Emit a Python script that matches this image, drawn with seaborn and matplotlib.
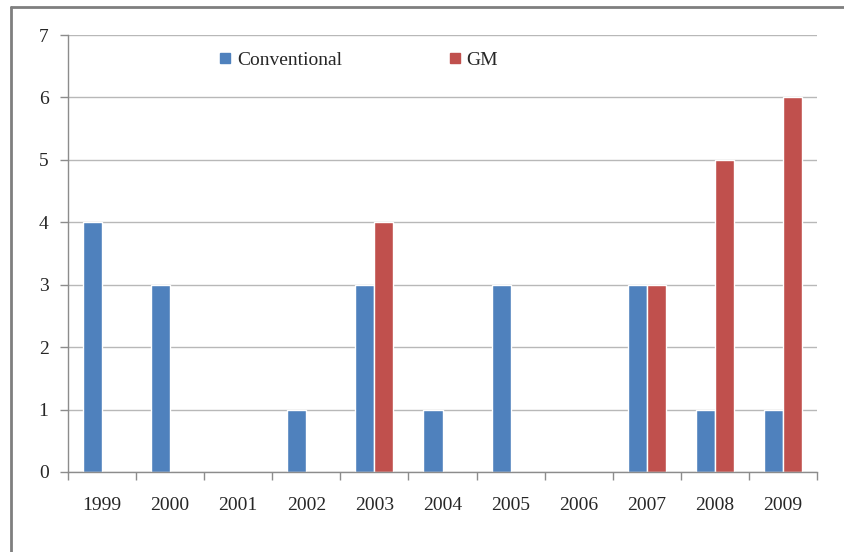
import matplotlib
matplotlib.use('Agg')
import matplotlib.pyplot as plt
import seaborn as sns
import pandas as pd
from matplotlib.lines import Line2D

years = ['1999', '2000', '2001', '2002', '2003', '2004', '2005', '2006', '2007', '2008', '2009']
conventional = [4, 3, 0, 1, 3, 1, 3, 0, 3, 1, 1]
gm = [0, 0, 0, 0, 4, 0, 0, 0, 3, 5, 6]

df = pd.DataFrame({
    'year': years * 2,
    'count': conventional + gm,
    'type': ['Conventional'] * len(years) + ['GM'] * len(years),
})

sns.set_style('white')
plt.rcParams['font.family'] = ['Liberation Serif', 'DejaVu Serif']

fig = plt.figure(figsize=(8.44, 5.52), dpi=100)
ax = fig.add_axes([68 / 844, 1 - 472 / 552, (817 - 68) / 844, (472 - 35) / 552])

sns.barplot(data=df, x='year', y='count', hue='type', order=years,
            palette={'Conventional': '#4F81BD', 'GM': '#C0504D'},
            width=0.56, saturation=1, ax=ax, legend=False)

ax.set_ylim(0, 7)
ax.set_xlim(-0.5, len(years) - 0.5)
ax.set_yticks(range(0, 8))
ax.yaxis.grid(True, color='#B8B8B8', linewidth=1)
ax.xaxis.grid(False)
ax.set_axisbelow(True)
ax.set_xlabel('')
ax.set_ylabel('')

for side in ['top', 'right']:
    ax.spines[side].set_visible(False)
for side in ['left', 'bottom']:
    ax.spines[side].set_color('#8C8C8C')
    ax.spines[side].set_linewidth(1)

# category boundary ticks on the x axis
ax.set_xticks([i - 0.5 for i in range(len(years) + 1)], minor=True)
ax.tick_params(axis='x', which='minor', length=6, color='#8C8C8C', width=1, direction='out')
ax.tick_params(axis='x', which='major', length=0, labelsize=14, pad=18)
ax.tick_params(axis='y', length=6, color='#8C8C8C', width=1, direction='out', labelsize=14, pad=8)
ax.tick_params(bottom=True, left=True, which='both')

handles = [Line2D([], [], marker='s', linestyle='', markersize=7, color='#4F81BD'),
           Line2D([], [], marker='s', linestyle='', markersize=7, color='#C0504D')]
ax.legend(handles, ['Conventional', 'GM'], ncol=2, frameon=False, fontsize=14,
          loc='center', bbox_to_anchor=(0.388, 0.943), columnspacing=5.5,
          handlelength=0.6, handletextpad=0.3)

# outer chart frame (top and left edges visible)
fig.add_artist(Line2D([10.5 / 844, 10.5 / 844], [0, 1 - 6.5 / 552], color='#7F7F7F', linewidth=2))
fig.add_artist(Line2D([10.5 / 844, 1], [1 - 6.5 / 552, 1 - 6.5 / 552], color='#7F7F7F', linewidth=2))

fig.savefig('out.png', dpi=100)
